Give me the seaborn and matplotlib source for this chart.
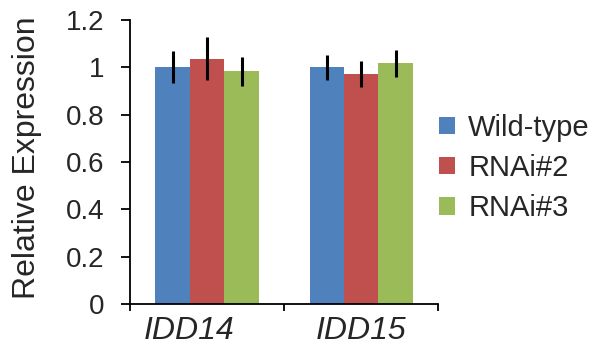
import matplotlib
matplotlib.use("Agg")
import matplotlib.pyplot as plt
import matplotlib.transforms as mtransforms
import seaborn as sns
import pandas as pd
import numpy as np

genes = ["IDD14", "IDD15"]
lines = ["Wild-type", "RNAi#2", "RNAi#3"]
wild_type = [1.00, 1.00]
rnai2 = [1.037, 0.972]
rnai3 = [0.983, 1.017]
err_wild_type = [0.068, 0.053]
err_rnai2 = [0.09, 0.053]
err_rnai3 = [0.06, 0.057]
colors = ["#4F81BD", "#C0504D", "#9BBB59"]

values = [wild_type, rnai2, rnai3]
errors = [err_wild_type, err_rnai2, err_rnai3]

df = pd.DataFrame({
    "gene": [g for _ in lines for g in genes],
    "line": [l for l in lines for _ in genes],
    "value": [v for vals in values for v in vals],
})

sns.set_style("white")
plt.rcParams["font.family"] = ["Liberation Sans", "DejaVu Sans"]

fig = plt.figure(figsize=(5.92, 3.49), dpi=100)
ax = fig.add_axes([130 / 592, 1 - 304 / 349, (438.3 - 130) / 592, (304 - 20) / 349])

sns.barplot(data=df, x="gene", y="value", hue="line", order=genes, hue_order=lines,
            palette=colors, width=0.67, errorbar=None, saturation=1, linewidth=0,
            ax=ax)

for cont, errs in zip(ax.containers, errors):
    xs = [b.get_x() + b.get_width() / 2 for b in cont]
    ys = [b.get_height() for b in cont]
    ax.errorbar(xs, ys, yerr=errs, fmt="none", ecolor="black", elinewidth=2.2,
                capsize=0, zorder=5)

ax.set_xlim(-0.5, 1.5)
ax.set_ylim(0, 1.2)
ax.set_yticks([0, 0.2, 0.4, 0.6, 0.8, 1.0, 1.2])
ax.set_yticklabels(["0", "0.2", "0.4", "0.6", "0.8", "1", "1.2"])

ax.set_xticks([0, 1])
ax.set_xticklabels(genes, fontstyle="italic", fontsize=23)
ax.set_xticks([-0.5, 0.5, 1.5], minor=True)
ax.tick_params(axis="x", which="major", length=0, pad=8.5)
ax.tick_params(axis="x", which="minor", length=5, width=1.3, color="black",
               direction="out", bottom=True)
ax.tick_params(axis="y", which="major", length=6.5, width=1.3, color="black",
               direction="out", left=True, labelsize=20, pad=12)

# shift the first category label slightly left as in the reference
lbl = ax.get_xticklabels()[0]
lbl.set_transform(lbl.get_transform() + mtransforms.ScaledTranslation(-0.18, 0, fig.dpi_scale_trans))

for s in ["top", "right"]:
    ax.spines[s].set_visible(False)
for s in ["left", "bottom"]:
    ax.spines[s].set_color("black")
    ax.spines[s].set_linewidth(1.3)

ax.set_xlabel("")
ax.set_ylabel("Relative Expression", fontsize=23)
ax.yaxis.set_label_coords(-0.286, 0.515)

handles, labels = ax.get_legend_handles_labels()
ax.legend(handles, labels, loc="center left", bbox_to_anchor=(439 / 592, 1 - 168 / 349),
          bbox_transform=fig.transFigure, frameon=False, fontsize=21,
          handlelength=0.55, handleheight=0.55, handletextpad=0.45, labelspacing=0.42,
          borderpad=0, borderaxespad=0)

fig.savefig("out.png", dpi=100)
